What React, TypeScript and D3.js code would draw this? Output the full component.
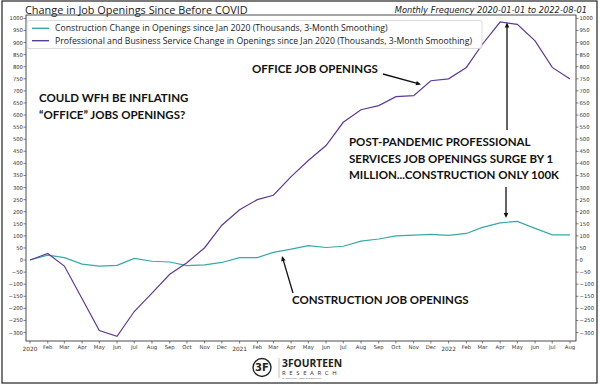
import React from "react";
import * as d3 from "d3";

const months: string[] = [
  "2020-01","2020-02","2020-03","2020-04","2020-05","2020-06","2020-07","2020-08","2020-09","2020-10","2020-11","2020-12",
  "2021-01","2021-02","2021-03","2021-04","2021-05","2021-06","2021-07","2021-08","2021-09","2021-10","2021-11","2021-12",
  "2022-01","2022-02","2022-03","2022-04","2022-05","2022-06","2022-07","2022-08",
];
const construction: number[] = [
  0, 20, 10, -17, -25, -22, 7, -5, -8, -23, -20, -10,
  10, 10, 32, 45, 60, 52, 57, 78, 87, 100, 103, 106,
  102, 110, 135, 154, 160, 131, 104, 104,
];
const professional: number[] = [
  0, 27, -25, -160, -292, -316, -213, -137, -59, -11, 51, 144,
  208, 250, 268, 345, 412, 474, 570, 622, 639, 676, 680, 742,
  750, 797, 893, 985, 975, 907, 797, 749,
];
const yTicks: number[] = d3.range(-300, 1001, 50);
const monthAbbr: string[] = ["Jan","Feb","Mar","Apr","May","Jun","Jul","Aug","Sep","Oct","Nov","Dec"];
const seriesNames: string[] = [
  "Construction Change in Openings since Jan 2020 (Thousands, 3-Month Smoothing)",
  "Professional and Business Service Change in Openings since Jan 2020 (Thousands, 3-Month Smoothing)",
];
const title = "Change in Job Openings Since Before COVID";
const subtitle = "Monthly Frequency 2020-01-01 to 2022-08-01";

const TEAL = "#35aaa6";
const PURPLE = "#5d3a98";
const TICKC = "#333";

export default function App() {
  const W = 600, H = 389;
  const left = 26, right = 576, top = 15, bottom = 341;
  const parse = d3.timeParse("%Y-%m");
  const dates = months.map((m) => parse(m) as Date);
  const x = d3.scaleTime().domain([dates[0], dates[dates.length - 1]]).range([30, 570]);
  const y = d3.scaleLinear().domain([-335, 1014]).range([bottom, top]);
  const line = d3.line<number>().x((_, i) => x(dates[i])).y((v) => y(v));

  const tickFont = "DejaVu Sans, sans-serif";
  const annFont = "Lato, 'Open Sans', sans-serif";

  const arrowHead = (x1: number, y1: number, x2: number, y2: number, size = 5) => {
    const a = Math.atan2(y2 - y1, x2 - x1);
    const p1 = [x2 - size * Math.cos(a) + (size * 0.45) * Math.sin(a), y2 - size * Math.sin(a) - (size * 0.45) * Math.cos(a)];
    const p2 = [x2 - size * Math.cos(a) - (size * 0.45) * Math.sin(a), y2 - size * Math.sin(a) + (size * 0.45) * Math.cos(a)];
    return (
      <g>
        <line x1={x1} y1={y1} x2={x2 - 2 * Math.cos(a)} y2={y2 - 2 * Math.sin(a)} stroke="#111" strokeWidth={1.3} />
        <polygon points={`${x2},${y2} ${p1[0]},${p1[1]} ${p2[0]},${p2[1]}`} fill="#111" />
      </g>
    );
  };

  return (
    <svg width={W} height={H} style={{ position: "absolute", left: 0, top: 0, background: "#fff" }}>
      <rect x={0} y={0} width={W} height={H} fill="#fff" />
      <rect x={2} y={1} width={595} height={382} fill="none" stroke="#222" strokeWidth={1.2} />
      {/* title */}
      <text x={25} y={14} fontFamily="'Open Sans', sans-serif" fontSize={10.9} fill="#222">{title}</text>
      <text x={587} y={13} textAnchor="end" fontFamily={tickFont} fontStyle="italic" fontSize={8.3} fill="#222">{subtitle}</text>
      {/* plot frame */}
      <rect x={left} y={top} width={right - left} height={bottom - top} fill="none" stroke="#222" strokeWidth={0.8} />
      {/* y ticks */}
      {yTicks.map((t) => (
        <g key={t}>
          <line x1={left - 2.5} x2={left} y1={y(t)} y2={y(t)} stroke={TICKC} strokeWidth={0.6} />
          <text x={left - 3} y={y(t) + 2} textAnchor="end" fontFamily={tickFont} fontSize={5.3} fill={TICKC}>
            {t < 0 ? "\u2212" + Math.abs(t) : String(t)}
          </text>
          <line x1={right} x2={right + 2.5} y1={y(t)} y2={y(t)} stroke={TICKC} strokeWidth={0.6} />
          <text x={right + 3.5} y={y(t) + 2} textAnchor="start" fontFamily={tickFont} fontSize={5.3} fill={TICKC}>
            {t < 0 ? "\u2212" + Math.abs(t) : String(t)}
          </text>
        </g>
      ))}
      {/* x ticks */}
      {dates.map((d, i) => {
        const isJan = d.getMonth() === 0;
        return (
          <g key={i}>
            <line x1={x(d)} x2={x(d)} y1={bottom} y2={bottom + 2.5} stroke={TICKC} strokeWidth={0.6} />
            <text x={x(d)} y={isJan ? 351 : 348.5} textAnchor="middle" fontFamily={tickFont} fontSize={isJan ? 5.8 : 5.3} fill={TICKC}>
              {isJan ? String(d.getFullYear()) : monthAbbr[d.getMonth()]}
            </text>
          </g>
        );
      })}
      {/* lines */}
      <path d={line(construction) || ""} fill="none" stroke={TEAL} strokeWidth={1.2} />
      <path d={line(professional) || ""} fill="none" stroke={PURPLE} strokeWidth={1.2} />
      {/* legend */}
      <rect x={27} y={20.5} width={455} height={28} rx={2} fill="#fff" fillOpacity={0.8} stroke="#ccc" strokeWidth={0.7} />
      <line x1={32} x2={49} y1={28.3} y2={28.3} stroke={TEAL} strokeWidth={1.4} />
      <line x1={32} x2={49} y1={40.7} y2={40.7} stroke={PURPLE} strokeWidth={1.4} />
      <text x={55} y={31.3} fontFamily="'Open Sans', sans-serif" fontSize={8.7} fill="#222">{seriesNames[0]}</text>
      <text x={55} y={43.7} fontFamily="'Open Sans', sans-serif" fontSize={8.7} fill="#222">{seriesNames[1]}</text>
      {/* annotations */}
      <g fontFamily={annFont} fontWeight={700} fontSize={11.5} fill="#111">
        <text x={39} y={102}>COULD WFH BE INFLATING</text>
        <text x={39} y={118.5}>“OFFICE” JOBS OPENINGS?</text>
        <text x={252} y={73}>OFFICE JOB OPENINGS</text>
        <text x={349} y={146}>POST-PANDEMIC PROFESSIONAL</text>
        <text x={349} y={162.5}>SERVICES JOB OPENINGS SURGE BY 1</text>
        <text x={349} y={179}>MILLION...CONSTRUCTION ONLY 100K</text>
        <text x={292} y={303.5}>CONSTRUCTION JOB OPENINGS</text>
      </g>
      {arrowHead(383, 74, 421, 84.5)}
      {arrowHead(507, 130, 507, 22.5)}
      {arrowHead(506, 187, 506, 218)}
      {arrowHead(293, 293, 282, 256)}
      {/* logo */}
      <g>
        <circle cx={262} cy={367.5} r={9} fill="none" stroke="#222" strokeWidth={1.4} />
        <text x={262} y={371} textAnchor="middle" fontFamily={tickFont} fontSize={10} fontWeight={700} fill="#222">3F</text>
        <line x1={279} x2={279} y1={358} y2={378} stroke="#999" strokeWidth={0.6} />
        <text x={282} y={367} fontFamily="'Open Sans', sans-serif" fontWeight={700} fontSize={10.3} fill="#222">3FOURTEEN</text>
        <text x={282} y={374.5} fontFamily="'Open Sans', sans-serif" fontSize={6} letterSpacing={3.6} fill="#333">RESEARCH</text>
        <text x={282} y={379} fontFamily="'Open Sans', sans-serif" fontSize={2.4} fill="#555">MARKET RISK. ASSET OPPORTUNITY.</text>
      </g>
    </svg>
  );
}
